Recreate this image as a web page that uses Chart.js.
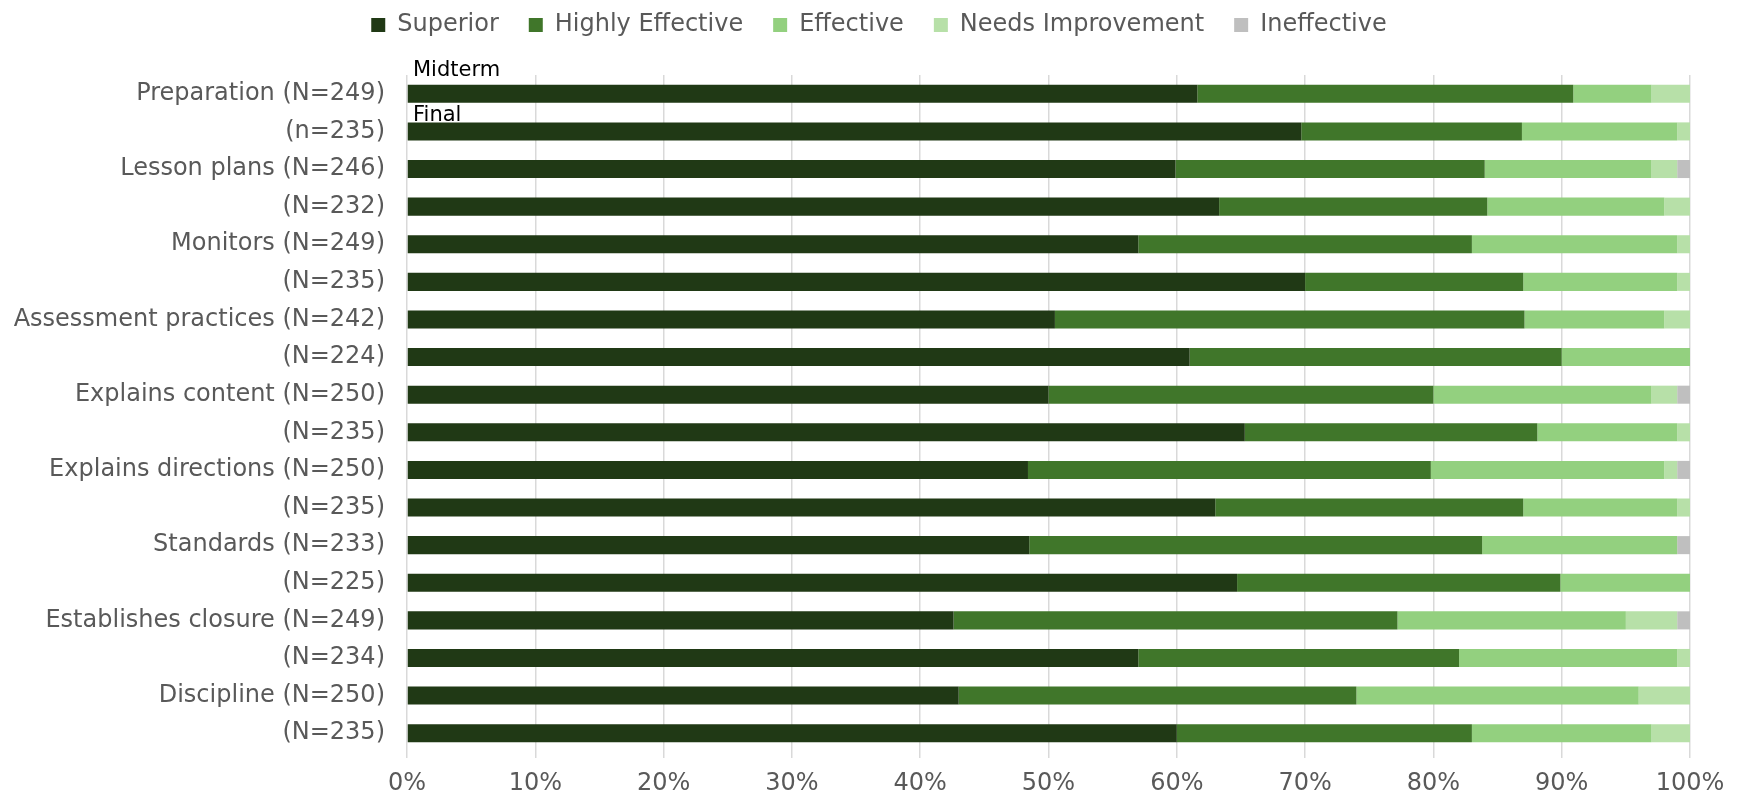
<!DOCTYPE html>
<html>
<head>
<meta charset="utf-8">
<script src="https://cdn.jsdelivr.net/npm/chart.js@4/dist/chart.umd.min.js"></script>
<style>
  html, body { margin: 0; padding: 0; background: #fff; }
  #wrap { width: 1738px; height: 796px; position: relative; }
</style>
</head>
<body>
<div id="wrap"><canvas id="ratingChart"></canvas></div>
<script>
// Ratings, top row first
const categories = [
    'Preparation (N=249)', '(n=235)',
    'Lesson plans (N=246)', '(N=232)',
    'Monitors (N=249)', '(N=235)',
    'Assessment practices (N=242)', '(N=224)',
    'Explains content (N=250)', '(N=235)',
    'Explains directions (N=250)', '(N=235)',
    'Standards (N=233)', '(N=225)',
    'Establishes closure (N=249)', '(N=234)',
    'Discipline (N=250)', '(N=235)'
];

const superior =          [61.6, 69.7, 59.9, 63.3, 57.0, 70.0, 50.5, 61.0, 50.0, 65.3, 48.4, 63.0, 48.5, 64.7, 42.6, 57.0, 43.0, 60.0];
const highlyEffective =   [29.3, 17.2, 24.1, 20.9, 26.0, 17.0, 36.6, 29.0, 30.0, 22.8, 31.4, 24.0, 35.3, 25.2, 34.6, 25.0, 31.0, 23.0];
const effective =         [ 6.1, 12.1, 13.0, 13.8, 16.0, 12.0, 10.9, 10.0, 17.0, 10.9, 18.2, 12.0, 15.2, 10.1, 17.8, 17.0, 22.0, 14.0];
const needsImprovement =  [ 3.0,  1.0,  2.0,  2.0,  1.0,  1.0,  2.0,  0.0,  2.0,  1.0,  1.0,  1.0,  0.0,  0.0,  4.0,  1.0,  4.0,  3.0];
const ineffective =       [ 0.0,  0.0,  1.0,  0.0,  0.0,  0.0,  0.0,  0.0,  1.0,  0.0,  1.0,  0.0,  1.0,  0.0,  1.0,  0.0,  0.0,  0.0];

const xTicks = [0, 10, 20, 30, 40, 50, 60, 70, 80, 90, 100];

const FONT = '"DejaVu Sans", Verdana, sans-serif';
const GREY_TEXT = '#595959';

// Midterm / Final small labels above the first pair of bars
const periodLabels = {
    id: 'periodLabels',
    afterDatasetsDraw(chart) {
        const ctx = chart.ctx;
        const x = chart.scales.x.getPixelForValue(0) + 6;
        const y = chart.scales.y;
        ctx.save();
        ctx.fillStyle = '#000';
        ctx.font = '21px ' + FONT;
        ctx.textAlign = 'left';
        ctx.textBaseline = 'middle';
        ctx.fillText('Midterm', x, y.getPixelForValue(0) - 23);
        ctx.fillText('Final', x, y.getPixelForValue(1) - 16);
        ctx.restore();
    }
};

// extra room under the legend, and nudge it a bit to the right
const legendMargin = {
    id: 'legendMargin',
    beforeInit(chart) {
        const fit = chart.legend.fit;
        chart.legend.fit = function () {
            fit.bind(chart.legend)();
            this.height += 28;
        };
    },
    afterLayout(chart) {
        chart.legend.left += 29;
        chart.legend.right += 29;
    }
};

function ds(label, data, color) {
    return {
        label: label,
        data: data,
        backgroundColor: color,
        borderWidth: 0,
        barPercentage: 0.48,
        categoryPercentage: 1.0
    };
}

const ctx = document.getElementById('ratingChart').getContext('2d');
const ratingChart = new Chart(ctx, {
    type: 'bar',
    data: {
        labels: categories,
        datasets: [
            ds('Superior', superior, '#203915'),
            ds('Highly Effective', highlyEffective, '#40762a'),
            ds('Effective', effective, '#93d07f'),
            ds('Needs Improvement', needsImprovement, '#b7e0a8'),
            ds('Ineffective', ineffective, '#bfbfbf')
        ]
    },
    options: {
        indexAxis: 'y',
        responsive: true,
        maintainAspectRatio: false,
        animation: false,
        layout: {
            padding: { top: -17, right: 48, bottom: 0, left: 10 }
        },
        plugins: {
            legend: {
                position: 'top',
                labels: {
                    boxWidth: 14,
                    boxHeight: 14,
                    padding: 30,
                    color: GREY_TEXT,
                    font: { family: FONT, size: 24 }
                }
            },
            tooltip: { enabled: false }
        },
        scales: {
            x: {
                stacked: true,
                min: 0,
                max: 100,
                afterBuildTicks: axis => {
                    axis.ticks = xTicks.map(v => ({ value: v }));
                },
                afterFit: axis => { axis.height = 44; },
                grid: {
                    color: '#d9d9d9',
                    lineWidth: 1.5,
                    drawTicks: true,
                    tickLength: 6
                },
                border: { display: false },
                ticks: {
                    color: GREY_TEXT,
                    padding: 11,
                    maxRotation: 0,
                    font: { family: FONT, size: 24 },
                    callback: v => v + '%'
                }
            },
            y: {
                stacked: true,
                afterFit: axis => { axis.width = 397; },
                grid: { display: false, drawTicks: false },
                border: { display: false },
                ticks: {
                    color: GREY_TEXT,
                    padding: 22,
                    autoSkip: false,
                    font: { family: FONT, size: 24 }
                }
            }
        }
    },
    plugins: [periodLabels, legendMargin]
});
</script>
</body>
</html>
